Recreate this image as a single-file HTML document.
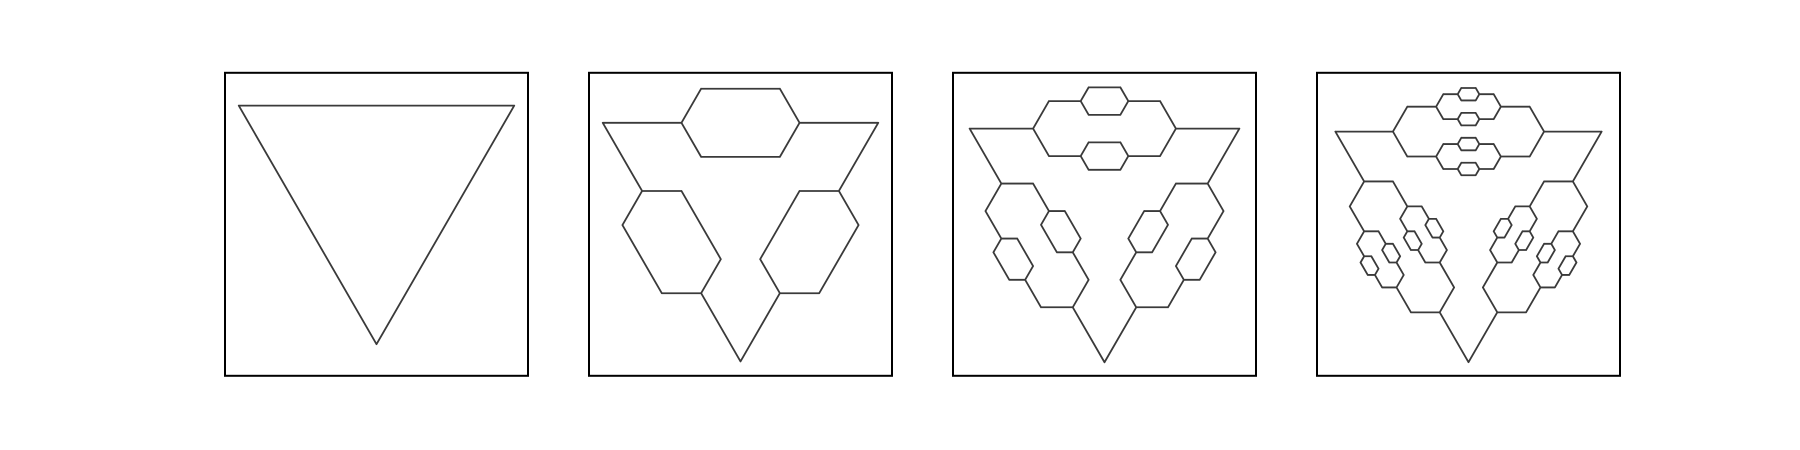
<!DOCTYPE html>
<html><head><meta charset="utf-8"><style>
html,body{margin:0;padding:0;background:#fff;width:1800px;height:450px;overflow:hidden}
svg{display:block}
</style></head><body>
<svg id="chart" width="1800" height="450" viewBox="0 0 1800 450" xmlns="http://www.w3.org/2000/svg"></svg>
<script>
// recursion depth of each panel
const levels = [0, 1, 2, 3];
// panel box left edges, triangle side widths and top y (layout)
const boxLeft = [225, 589, 953, 1317];
const triWidth = [275.5, 275.5, 269.8, 266.3];
const triTop = [105.6, 122.8, 128.6, 131.6];

const svg = document.getElementById('chart');
const NS = 'http://www.w3.org/2000/svg';
const BOX = 303, BOXTOP = 72.8;

function T(k){ return k === 0 ? 2 : 2*Math.pow(2,k) + Math.pow(2,k-1) + T(k-1); }

function curve(P, Q, k, segs){
  if (k === 0){ segs.push([P,Q]); return; }
  const dx = Q[0]-P[0], dy = Q[1]-P[1];
  const L = Math.hypot(dx,dy);
  const d = [dx/L, dy/L], n = [-d[1], d[0]];
  const u = L / T(k);
  const e = Math.pow(2,k)*u, s = Math.pow(2,k-1)*u;
  const h = s*Math.sqrt(3)/2;
  const A = [P[0]+d[0]*e, P[1]+d[1]*e];
  const B = [Q[0]-d[0]*e, Q[1]-d[1]*e];
  segs.push([P,A]); segs.push([B,Q]);
  for (const sg of [1,-1]){
    const C = [A[0]+d[0]*s/2+n[0]*h*sg, A[1]+d[1]*s/2+n[1]*h*sg];
    const D = [B[0]-d[0]*s/2+n[0]*h*sg, B[1]-d[1]*s/2+n[1]*h*sg];
    segs.push([A,C]); segs.push([D,B]);
    curve(C, D, k-1, segs);
  }
}

levels.forEach((k, i) => {
  const g = document.createElementNS(NS,'g');
  
  
  svg.appendChild(g);
  const frame = document.createElementNS(NS,'rect');
  frame.setAttribute('x', boxLeft[i]); frame.setAttribute('y', BOXTOP);
  frame.setAttribute('width', BOX); frame.setAttribute('height', BOX);
  frame.setAttribute('fill','none'); frame.setAttribute('stroke','#000'); frame.setAttribute('stroke-width','2');
  
  
  g.appendChild(frame);
  const cx = boxLeft[i] + BOX/2, W = triWidth[i], y0 = triTop[i];
  const TL = [cx - W/2, y0], TR = [cx + W/2, y0], AP = [cx, y0 + W*Math.sqrt(3)/2];
  const segs = [];
  curve(TL, TR, k, segs); curve(TR, AP, k, segs); curve(AP, TL, k, segs);
  let dstr = '';
  segs.forEach(([a,b]) => { dstr += 'M' + a[0].toFixed(2) + ' ' + a[1].toFixed(2) + 'L' + b[0].toFixed(2) + ' ' + b[1].toFixed(2); });
  const p = document.createElementNS(NS,'path');
  p.setAttribute('d', dstr);
  p.setAttribute('fill','none'); p.setAttribute('stroke','#3a3a3a'); p.setAttribute('stroke-width','1.8');
  p.setAttribute('stroke-linecap','round');
  
  
  g.appendChild(p);
});
</script>
</body></html>
